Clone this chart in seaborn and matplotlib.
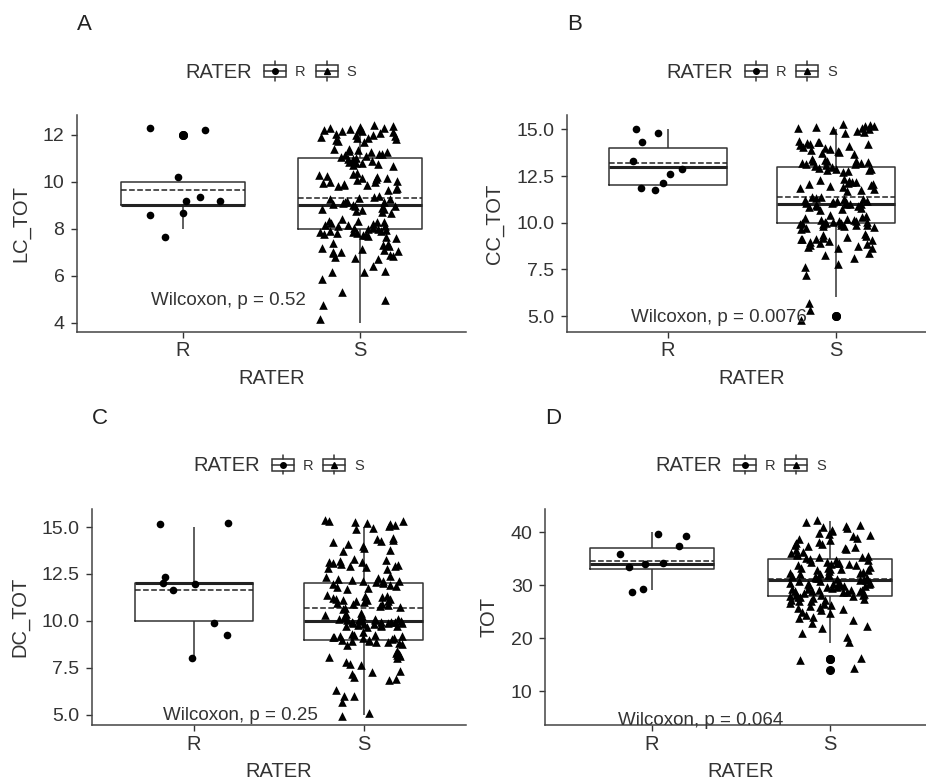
import numpy as np
import pandas as pd
import seaborn as sns
import matplotlib.pyplot as plt
from matplotlib.patches import Rectangle
from matplotlib.lines import Line2D
from matplotlib.legend_handler import HandlerBase

sns.set_theme(style="ticks")
plt.rcParams["font.family"] = ["Liberation Sans", "DejaVu Sans"]

INK = "#333333"
W, H = 926, 784

groups = ["R", "S"]

# LC_TOT (panel A) - values as plotted (jittered around integer scores)
lc_r = [12.3, 12.2, 10.2, 9.35, 9.2, 9.2, 8.65, 8.6, 7.65]
lc_s = [12.35, 12.4, 12.3, 12.25, 12.2, 12.15, 12.1, 12.05, 12.0, 11.95, 11.9, 11.85,
        11.8, 11.75, 11.7, 12.38, 12.28, 12.18, 12.08, 11.98, 11.88, 11.78, 12.22,
        11.4, 11.35, 11.3, 11.25, 11.2, 11.15, 11.1, 11.05, 11.0, 10.95, 10.9, 10.85,
        10.8, 10.75, 10.7, 10.65, 11.38, 11.18, 10.98, 10.88, 11.28, 10.78,
        10.35, 10.3, 10.25, 10.2, 10.15, 10.1, 10.05, 10.0, 9.95, 9.9, 9.85, 9.8,
        9.75, 9.7, 9.65, 10.38, 10.18, 9.98, 9.88, 10.08,
        9.4, 9.3, 9.25, 9.2, 9.15, 9.1, 9.05, 9.0, 8.95, 8.9, 8.85, 8.8, 8.75, 8.7,
        8.65, 9.35, 9.12, 8.98, 8.82, 9.28,
        8.4, 8.35, 8.3, 8.28, 8.25, 8.2, 8.18, 8.15, 8.1, 8.05, 8.0, 7.98, 7.95, 7.9,
        7.88, 7.85, 7.8, 7.78, 7.75, 7.7, 7.65, 7.62, 8.32, 8.12, 8.02, 7.92, 7.82, 7.72,
        7.4, 7.3, 7.25, 7.2, 7.15, 7.1, 7.05, 7.0, 6.95, 6.9, 6.85, 6.8, 6.75, 6.7,
        7.35, 7.02,
        6.4, 6.2, 6.15, 6.15, 5.85,
        5.3, 4.95, 4.75,
        4.15]

# CC_TOT (panel B)
cc_r = [14.82, 15.0, 14.31, 13.31, 12.61, 12.86, 12.14, 11.84, 11.75]
cc_s = [15.3, 15.25, 15.2, 15.15, 15.1, 15.05, 15.0, 14.95, 14.9, 14.85, 14.8, 15.18,
        14.4, 14.35, 14.3, 14.25, 14.2, 14.15, 14.1, 14.05, 14.0, 13.95, 13.9, 13.85,
        13.8, 13.75, 13.7, 14.22,
        13.4, 13.35, 13.3, 13.28, 13.25, 13.2, 13.15, 13.1, 13.05, 13.0, 12.95, 12.9,
        12.85, 12.8, 12.75, 12.7, 13.32, 13.22, 13.12, 12.88,
        12.35, 12.3, 12.25, 12.2, 12.15, 12.1, 12.05, 12.0, 11.95, 11.9, 11.85, 11.8,
        11.75, 11.7, 12.18,
        11.4, 11.35, 11.3, 11.25, 11.2, 11.15, 11.1, 11.08, 11.05, 11.02, 11.0, 10.98,
        10.95, 10.9, 10.85, 10.8, 10.75, 10.7, 11.18, 11.12, 10.92, 11.28,
        10.4, 10.35, 10.3, 10.25, 10.2, 10.15, 10.1, 10.08, 10.05, 10.02, 10.0, 9.98,
        9.95, 9.92, 9.9, 9.88, 9.85, 9.82, 9.8, 9.75, 9.7, 9.65, 10.12, 9.96, 10.06,
        9.4, 9.35, 9.3, 9.25, 9.2, 9.15, 9.1, 9.05, 9.0, 8.95, 8.9, 8.85, 8.8, 8.75,
        8.7, 8.65, 8.62, 9.12,
        8.4, 8.25, 8.1, 7.8, 7.65,
        7.2,
        5.7,
        5.3, 4.8]

# DC_TOT (panel C)
dc_r = [15.15, 15.22, 12.04, 11.98, 12.34, 11.63, 9.91, 9.27, 8.03]
dc_s = [15.4, 15.35, 15.3, 15.25, 15.2, 15.1, 15.05, 14.95, 14.9, 15.15,
        14.4, 14.3, 14.25, 14.2, 14.1, 14.0, 13.9, 13.8, 13.7, 14.38,
        13.3, 13.25, 13.2, 13.15, 13.1, 13.05, 13.0, 12.95, 12.9, 12.85, 12.8, 12.75, 13.12,
        12.4, 12.35, 12.3, 12.25, 12.2, 12.15, 12.1, 12.05, 12.0, 11.95, 11.9, 11.85,
        11.8, 11.75, 11.7, 12.12,
        11.4, 11.35, 11.3, 11.25, 11.2, 11.15, 11.1, 11.05, 11.0, 10.95, 10.9, 10.85,
        10.8, 10.75, 10.7, 10.65, 11.18, 11.12, 11.08, 10.88,
        10.4, 10.35, 10.3, 10.25, 10.2, 10.15, 10.12, 10.1, 10.08, 10.05, 10.02, 10.0,
        9.98, 9.96, 9.95, 9.92, 9.9, 9.88, 9.85, 9.82, 9.8, 9.78, 9.75, 9.72, 9.7, 9.65,
        10.18, 10.06, 9.94, 9.86,
        9.4, 9.3, 9.25, 9.2, 9.15, 9.1, 9.05, 9.0, 8.95, 8.9, 8.85, 8.8, 8.75, 8.7,
        9.18, 9.08, 8.98, 8.88, 9.12, 9.22,
        8.4, 8.3, 8.25, 8.2, 8.1, 8.05, 8.0, 7.8, 7.7, 7.65,
        7.35, 7.25, 7.15, 7.0, 6.9, 6.85,
        6.3, 6.0, 6.0, 5.68,
        5.1, 4.9]

# TOT (panel D)
tot_r = [39.57, 39.25, 37.3, 35.8, 33.4, 34.0, 34.1, 29.2, 28.7]
tot_s = [42.3, 41.8,
         41.3, 41.1, 40.9, 40.7,
         40.3, 40.1, 39.9, 39.7,
         39.4, 39.2, 38.9, 38.7,
         38.4, 38.2, 38.0, 37.8, 37.6,
         37.4, 37.2, 37.0, 36.8, 36.7,
         36.3, 36.1, 35.9, 35.7,
         35.4, 35.2, 35.1, 34.9, 34.8, 34.7, 35.3,
         34.4, 34.3, 34.1, 34.0, 33.9, 33.8, 33.7, 34.2,
         33.4, 33.3, 33.1, 33.0, 32.9, 32.8, 32.7, 33.2,
         32.4, 32.3, 32.2, 32.1, 32.0, 31.9, 31.8, 31.7, 31.6,
         31.4, 31.3, 31.2, 31.1, 31.0, 30.9, 30.8, 30.7, 30.6, 31.25,
         30.4, 30.3, 30.2, 30.1, 30.0, 29.9, 29.8, 29.7, 29.6, 30.25, 30.05,
         29.4, 29.3, 29.2, 29.1, 29.0, 28.9, 28.8, 28.7, 28.6, 29.15, 28.95,
         28.4, 28.3, 28.2, 28.1, 28.0, 27.9, 27.8, 27.7, 27.6, 28.15,
         27.4, 27.2, 27.0, 26.9, 26.7, 27.1,
         26.4, 26.2, 26.0, 25.8, 25.6,
         25.4, 25.2, 24.9, 24.7,
         24.3, 24.0, 23.7,
         23.4, 22.8,
         22.3, 21.9,
         21.0, 20.2, 19.2,
         16.2, 15.8,
         14.4]

letters = ["A", "B", "C", "D"]
ylabels = ["LC_TOT", "CC_TOT", "DC_TOT", "TOT"]
pvalues = ["Wilcoxon, p = 0.52", "Wilcoxon, p = 0.0076",
           "Wilcoxon, p = 0.25", "Wilcoxon, p = 0.064"]
series = [(lc_r, lc_s), (cc_r, cc_s), (dc_r, dc_s), (tot_r, tot_s)]
yticks = [[4, 6, 8, 10, 12], [5, 7.5, 10, 12.5, 15], [5, 7.5, 10, 12.5, 15], [10, 20, 30, 40]]
yfmt = ["{:.0f}", "{:.1f}", "{:.1f}", "{:.0f}"]

# layout in pixels: (left, top, width, height), ylim, text anchor (x data, y data)
layout = [
    dict(rect=(77, 115, 388.7, 216.7), ylim=(3.62, 12.84), txt=(-0.18, 4.93)),
    dict(rect=(567, 115, 370, 216.7), ylim=(4.16, 15.77), txt=(-0.22, 4.9)),
    dict(rect=(92, 508.7, 374, 216.6), ylim=(4.43, 15.98), txt=(-0.18, 4.97)),
    dict(rect=(545, 508.7, 392, 216.6), ylim=(3.53, 44.4), txt=(-0.19, 4.5)),
]


class BoxIcon(HandlerBase):
    def __init__(self, marker, ms):
        super().__init__()
        self.marker = marker
        self.ms = ms

    def create_artists(self, legend, orig_handle, xdescent, ydescent,
                       width, height, fontsize, trans):
        x0, y0 = -xdescent, -ydescent
        cx, cy = x0 + width / 2, y0 + height / 2
        kw = dict(color=INK, lw=1.1, transform=trans)
        box = Rectangle((x0, y0), width, height, fill=False, ec=INK, lw=1.1, transform=trans)
        w1 = Line2D([cx, cx], [y0 - height * 0.3, y0], **kw)
        w2 = Line2D([cx, cx], [y0 + height, y0 + height * 1.3], **kw)
        med = Line2D([x0, x0 + width], [cy, cy], **kw)
        mk = Line2D([cx], [cy], marker=self.marker, ms=self.ms, color="black",
                    ls="none", transform=trans)
        return [box, w1, w2, med, mk]


fig = plt.figure(figsize=(W / 100, H / 100), dpi=100)
np.random.seed(7)

for i in range(4):
    r_vals, s_vals = series[i]
    df = pd.DataFrame({
        "RATER": ["R"] * len(r_vals) + ["S"] * len(s_vals),
        "value": r_vals + s_vals,
    })
    df["score"] = np.round(df["value"])

    left, top, w, h = layout[i]["rect"]
    ax = fig.add_axes([left / W, 1 - (top + h) / H, w / W, h / H])

    sns.boxplot(data=df, x="RATER", y="score", order=groups, ax=ax, width=0.7,
                fill=False, color=INK, linewidth=1.1, whis=1.5, showcaps=False,
                showmeans=True, meanline=True,
                medianprops=dict(linewidth=2.2, color="#222222"),
                meanprops=dict(linestyle="--", linewidth=1.1, color="#222222"),
                flierprops=dict(marker="o", markerfacecolor="black",
                                markeredgecolor="black", markersize=5.5))
    sns.stripplot(data=df[df["RATER"] == "R"], x="RATER", y="value", order=groups,
                  ax=ax, marker="o", size=5.5, color="black", jitter=0.22, zorder=3)
    sns.stripplot(data=df[df["RATER"] == "S"], x="RATER", y="value", order=groups,
                  ax=ax, marker="^", size=6.2, color="black", jitter=0.23, zorder=3)

    ax.set_xlim(-0.6, 1.6)
    ax.set_ylim(*layout[i]["ylim"])
    ax.set_yticks(yticks[i])
    ax.set_yticklabels([yfmt[i].format(t) for t in yticks[i]])
    sns.despine(ax=ax)
    for sp in ["left", "bottom"]:
        ax.spines[sp].set_color("#444444")
        ax.spines[sp].set_linewidth(1.1)
    ax.tick_params(axis="y", labelsize=14, colors=INK, length=4, width=1, pad=5)
    ax.tick_params(axis="x", labelsize=14.5, colors=INK, length=4, width=1, pad=3)
    ax.set_xlabel("RATER", fontsize=14.5, color=INK, labelpad=6)
    ax.set_ylabel(ylabels[i], fontsize=14.5, color=INK, labelpad=9)

    tx, ty = layout[i]["txt"]
    ax.text(tx, ty, pvalues[i], fontsize=13.5, color=INK, ha="left", va="center", zorder=5)

    # panel letter and legend above each panel
    fig.text(left / W, 1 - (top - 90) / H, letters[i], fontsize=16, color="#222222",
             ha="left", va="center")
    cx = left + w / 2
    ly = top - 43
    fig.text((cx - 19) / W, 1 - ly / H, "RATER", fontsize=14.5, color=INK,
             ha="right", va="center")
    h_r, h_s = Line2D([], []), Line2D([], [])
    fig.legend([h_r, h_s], ["R", "S"], loc="center left",
               bbox_to_anchor=((cx - 7) / W, 1 - ly / H), ncol=2, frameon=False,
               fontsize=10.5, handlelength=1.5, handleheight=0.9, handletextpad=0.6,
               columnspacing=0.7, borderpad=0, borderaxespad=0, labelcolor=INK,
               handler_map={h_r: BoxIcon("o", 4), h_s: BoxIcon("^", 4)})

fig.savefig("out.png", dpi=100)
